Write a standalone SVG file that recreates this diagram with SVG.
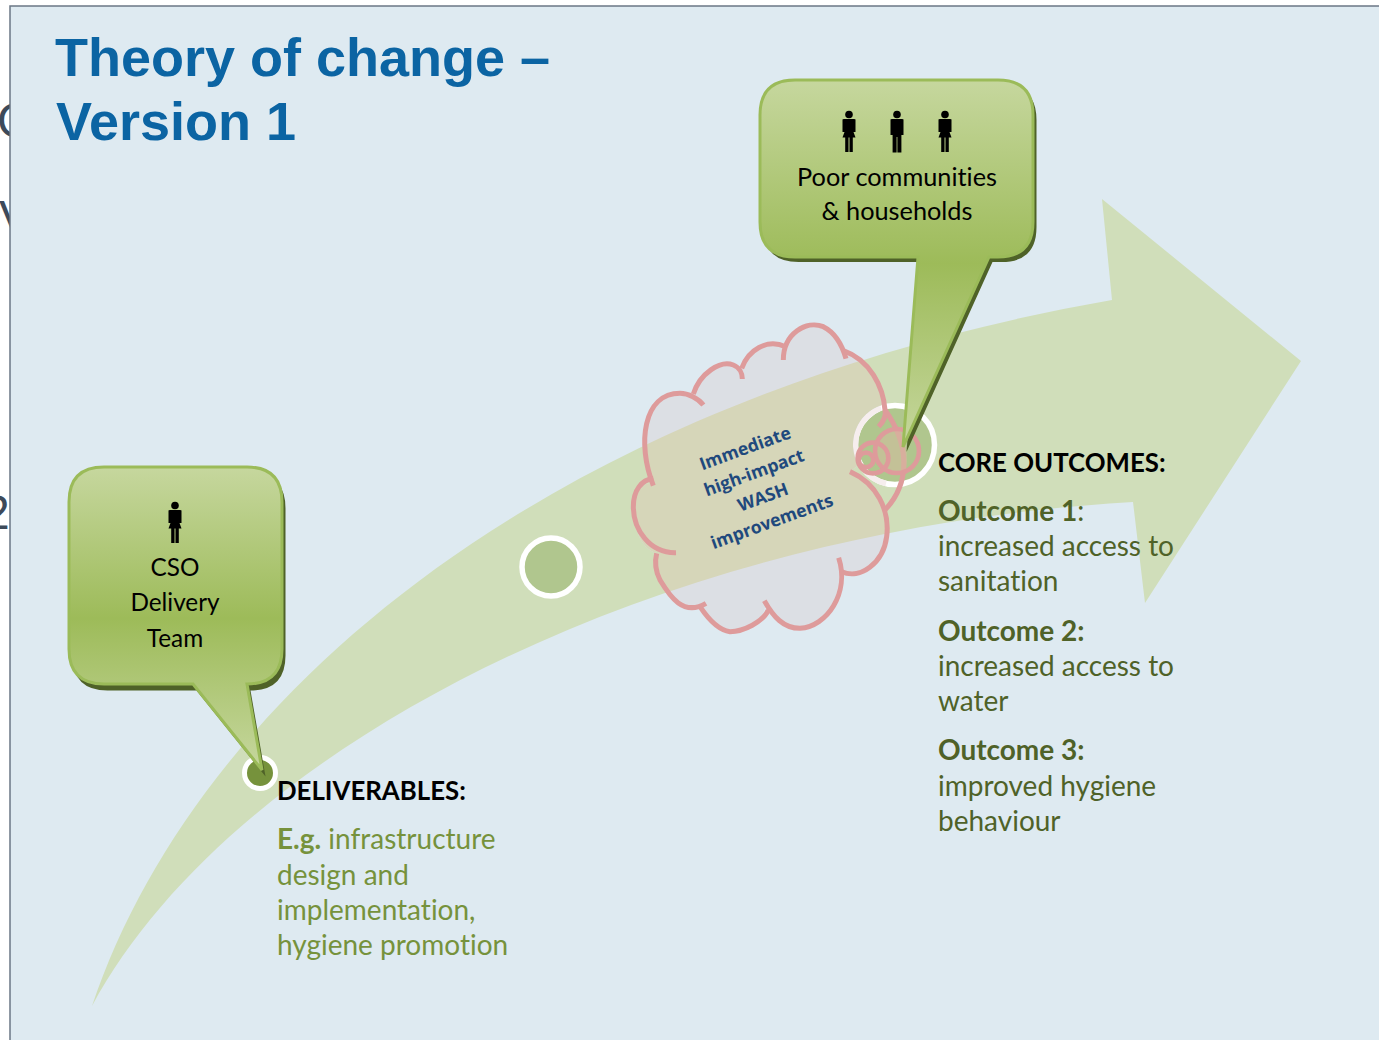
<svg xmlns="http://www.w3.org/2000/svg" xmlns:xlink="http://www.w3.org/1999/xlink" width="1379" height="1040" viewBox="0 0 1379 1040">
<style>
.t{font-family:Lato,"Open Sans",sans-serif;font-variant-ligatures:none}
.bub{font-size:25.300px;fill:#000;text-anchor:middle}
.team{font-size:24.300px}
.h{font-size:25.800px;font-weight:700;fill:#000}
.o{font-size:28px;fill:#4f6228}
.g{font-size:28px;fill:#76923c}
.title{font-family:"Liberation Sans",Arial,sans-serif;font-weight:700;font-size:54px;fill:#0b64a3}
.edge{font-family:"Liberation Sans",Arial,sans-serif;font-size:48px;fill:#3d4a5a}
.ring{stroke:#fff;fill:#b0c68e}
.cl{fill:none;stroke:#de9b9b;stroke-width:15;stroke-linecap:butt}
.cloudtxt{font-family:"Open Sans",sans-serif;font-size:17.600px;font-weight:700;fill:#1f497d;text-anchor:middle}
</style>
<defs>
<linearGradient id="g1" x1="0" y1="0" x2="0" y2="1">
<stop offset="0" stop-color="#c6d79e"/><stop offset=".5" stop-color="#9dbb59"/><stop offset="1" stop-color="#c6d79e"/>
</linearGradient>
<path id="arrow" d="M92 1006C195 700 540 400 1112 300L1102 199L1301 361L1145 603L1133 502C650 530 230 750 92 1006Z"/>
<path id="cloudShape" d="M100 525C50 400 70 250 180 250C195 250 210 252 218 250C240 190 300 150 340 165C350 170 358 172 365 175C385 120 440 85 492 110C510 50 580 30 640 70C655 85 665 105 672 122C750 150 790 230 785 285A125 125 0 0 0 715 465L690 485C770 520 810 600 800 680C790 760 720 810 665 785C680 850 620 950 540 955C490 955 460 920 435 890C430 935 370 965 330 965C290 960 260 920 240 890C190 920 150 860 120 810C105 780 105 750 110 730C60 715 40 650 40 590C40 540 65 510 100 525Z"/>
<clipPath id="cloudClip"><use xlink:href="#cloudShape" transform="translate(620 310) scale(.33333)"/></clipPath>
<g id="woman"><circle cx="0" cy="-16.500" r="3.800"/><path d="M-6.500 -11.500Q-6.500 -12 -5 -12H5Q6.500 -12 6.500 -11.500V1H4.500L6.500 6.500H3.800V21H.5V6.500H-.5V21H-3.800V6.500H-6.500L-4.500 1H-6.500Z"/></g>
<g id="man"><circle cx="0" cy="-16.500" r="3.800"/><path d="M-6.500 -11.500Q-6.500 -12 -5 -12H5Q6.500 -12 6.500 -11.500V4H4.400V21.500H.4V6H-.4V21.500H-4.400V4H-6.500Z"/></g>
</defs>
<rect width="1379" height="1040" fill="#fff"/>
<text class="edge" x="-3" y="137">C</text>
<text class="edge" x="-1" y="234">V</text>
<text class="edge" x="-17" y="529">2</text>
<rect x="10" y="6" width="1380" height="1045" fill="#deeaf1" stroke="#6b7785" stroke-width="1.500"/>
<g id="title"><text class="title" x="55" y="76">Theory of change –</text><text class="title" x="56" y="140">Version 1</text></g>
<g id="connectors"><use xlink:href="#arrow" fill="#d0deba"/></g>
<g id="milestones">
<circle class="ring" cx="551" cy="567" r="29" stroke-width="5.500"/>
<circle class="ring" cx="895" cy="445" r="39.500" stroke-width="5.500"/>
<path d="M881 408A39.500 39.500 0 0 0 886 483.500" fill="none" stroke="#f6eeee" stroke-width="5.500"/>
</g>
<g id="cloud">
<g transform="translate(620 310) scale(.33333)"><use xlink:href="#cloudShape" fill="#dcdfe4"/></g>
<use xlink:href="#arrow" fill="#d6d6b9" clip-path="url(#cloudClip)"/>
<g transform="translate(620 310) scale(.33333)">
<path class="cl" d="M100 527C50 400 70 250 180 250C205 250 235 265 250 285"/>
<path class="cl" d="M220 252C240 190 300 150 340 165C358 172 367 190 367 207"/>
<path class="cl" d="M365 175C385 120 440 85 497 110"/>
<path class="cl" d="M490 150C490 70 560 30 610 50C640 65 665 100 678 146"/>
<path class="cl" d="M670 122C750 150 790 230 795 300C800 320 790 335 776 350"/>
<path class="cl" d="M795 300C860 390 880 510 795 600"/>
<path class="cl" d="M690 485C770 520 810 600 800 680C790 760 720 810 665 785"/>
<path class="cl" d="M656 743C690 850 620 950 540 955C490 955 460 920 433 872"/>
<path class="cl" d="M445 900C430 935 370 965 330 965C290 960 260 920 240 890"/>
<path class="cl" d="M258 880C190 920 150 860 120 810C105 780 105 750 110 730"/>
<path class="cl" d="M168 728C90 730 40 660 40 590C40 540 65 510 100 505"/>
<path d="M848 358A66 66 0 0 0 790 474Q830 500 858 485Q868 420 848 358Z" fill="#d3bd9e" fill-opacity=".55"/>
<circle cx="831" cy="423" r="66" fill="none" stroke="#de9b9b" stroke-width="14"/>
<circle cx="759" cy="444" r="46" fill="none" stroke="#de9b9b" stroke-width="14"/>
<circle cx="738" cy="450" r="22" fill="none" stroke="#de9b9b" stroke-width="14"/>
</g>
<text class="cloudtxt" transform="translate(758.500 485) rotate(-20)"><tspan x="0" y="-33">Immediate</tspan><tspan x="0" y="-7">high-impact</tspan><tspan x="0" y="19">WASH</tspan><tspan x="0" y="45">improvements</tspan></text>
</g>
<g id="dot"><circle cx="260" cy="773" r="15.500" fill="#76923c" stroke="#fff" stroke-width="5"/></g>
<g id="team">
<path transform="translate(3.500 6.500)" fill="#4f6228" d="M104 467H247Q282 467 282 502V649Q282 684 247 684L262 770L193 684H104Q69 684 69 649V502Q69 467 104 467Z"/>
<path fill="url(#g1)" stroke="#9bbb59" stroke-width="3" d="M104 467H247Q282 467 282 502V649Q282 684 247 684L262 770L193 684H104Q69 684 69 649V502Q69 467 104 467Z"/>
<use xlink:href="#woman" x="175" y="522"/>
<text class="t bub team" x="175" y="576">CSO</text>
<text class="t bub team" x="175" y="611">Delivery</text>
<text class="t bub team" x="175" y="647">Team</text>
</g>
<g id="communities">
<path transform="translate(3.500 5)" fill="#4f6228" d="M795 80H998Q1033 80 1033 115V222Q1033 257 998 257H989L903 447L918 257H795Q760 257 760 222V115Q760 80 795 80Z"/>
<path fill="url(#g1)" stroke="#9bbb59" stroke-width="3" d="M795 80H998Q1033 80 1033 115V222Q1033 257 998 257H989L903 447L918 257H795Q760 257 760 222V115Q760 80 795 80Z"/>
<use xlink:href="#woman" x="849" y="131"/>
<use xlink:href="#man" x="897" y="131"/>
<use xlink:href="#woman" x="945" y="131"/>
<text class="t bub" x="897" y="186">Poor communities</text>
<text class="t bub" x="897" y="220">&amp; households</text>
</g>
<g id="deliverables" class="t">
<text class="h" x="277" y="800">DELIVERABLES:</text>
<text class="g" x="277" y="849"><tspan font-weight="700">E.g.</tspan> infrastructure</text>
<text class="g" x="277" y="885">design and</text>
<text class="g" x="277" y="920">implementation,</text>
<text class="g" x="277" y="955">hygiene promotion</text>
</g>
<g id="outcomes" class="t">
<text class="h" x="938" y="472">CORE OUTCOMES:</text>
<text class="o" x="938" y="521"><tspan font-weight="700">Outcome 1</tspan>:</text>
<text class="o" x="938" y="556">increased access to</text>
<text class="o" x="938" y="591">sanitation</text>
<text class="o" x="938" y="641" font-weight="700">Outcome 2:</text>
<text class="o" x="938" y="676">increased access to</text>
<text class="o" x="938" y="711">water</text>
<text class="o" x="938" y="760" font-weight="700">Outcome 3:</text>
<text class="o" x="938" y="796">improved hygiene</text>
<text class="o" x="938" y="831">behaviour</text>
</g>
</svg>
